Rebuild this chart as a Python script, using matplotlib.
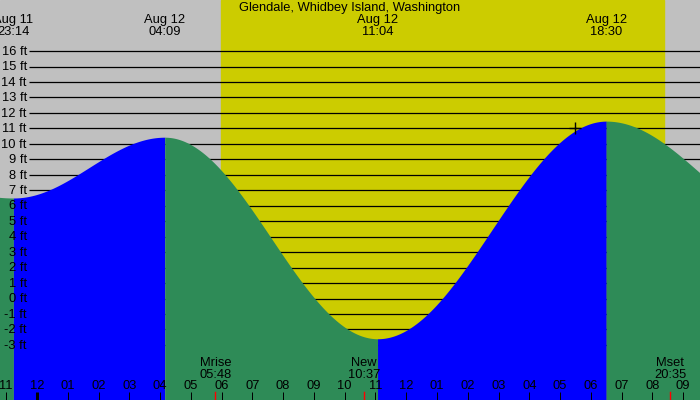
import numpy as np
import matplotlib
matplotlib.use("Agg")
import matplotlib.pyplot as plt
import matplotlib.transforms as mtransforms

plt.rcParams['font.family'] = ['Liberation Sans', 'DejaVu Sans']

# tide extremes, hours from Aug 12 00:00 (first / last are off-chart neighbours)
tide_hours = [-5.0, -0.767, 4.15, 11.067, 18.5, 24.75]
tide_feet = [8.0, 6.5, 10.43, -2.6, 11.47, 4.5]
tide_dates = ["Aug 11", "Aug 11", "Aug 12", "Aug 12", "Aug 12", "Aug 13"]
tide_times = ["17:00", "23:14", "04:09", "11:04", "18:30", "00:45"]

sunrise, sunset = 5.97, 20.38

moon_hours = [5.8, 10.617, 20.583]
moon_names = ["Mrise", "New", "Mset"]
moon_times = ["05:48", "10:37", "20:35"]

now_hour, now_feet = 17.48, 11.0

levels = list(range(-3, 17))
hour_ticks = list(range(-1, 22))

title = "Glendale, Whidbey Island, Washington"

GRAY = "#c0c0c0"
YELLOW = "#cccc00"
BLUE = "#0000ff"
GREEN = "#2e8b57"
FS = 9.3

x0, x1 = -1.2025, 21.547
y0, y1 = -6.56, 19.30

fig = plt.figure(figsize=(7, 4), dpi=100)
ax = fig.add_axes([0, 0, 1, 1])
ax.set_xlim(x0, x1)
ax.set_ylim(y0, y1)
ax.axis("off")

ax.axvspan(x0, x1, color=GRAY, zorder=0)
ax.axvspan(sunrise, sunset, color=YELLOW, zorder=0.5)

ax.hlines(levels, -0.26, x1, color="black", lw=0.9, zorder=1)
for lv in levels:
    ax.text(-0.33, lv - 0.05, f"{lv} ft", ha="right", va="center", fontsize=FS, zorder=5)

# cosine curve between each pair of extremes
for i in range(len(tide_hours) - 1):
    ta, tb = tide_hours[i], tide_hours[i + 1]
    ha_, hb_ = tide_feet[i], tide_feet[i + 1]
    t = np.linspace(ta, tb, 200)
    h = ha_ + (hb_ - ha_) * (1 - np.cos(np.pi * (t - ta) / (tb - ta))) / 2
    col = BLUE if hb_ > ha_ else GREEN
    ax.fill_between(t, h, y0 - 1, color=col, lw=0, zorder=2)

ax.plot([now_hour], [now_feet], marker="+", color="black", ms=9, mew=1, zorder=4)

trans = mtransforms.blended_transform_factory(ax.transData, ax.transAxes)

def fy(px):
    return 1 - px / 400

ax.text(0.5, fy(8), title, transform=ax.transAxes, ha="center", va="center", fontsize=FS)
for t, d, tm in zip(tide_hours, tide_dates, tide_times):
    if x0 - 1 < t < x1 + 1:
        ax.text(t, fy(20), d, transform=trans, ha="center", va="center", fontsize=FS)
        ax.text(t, fy(32), tm, transform=trans, ha="center", va="center", fontsize=FS)

for t, nm, tm in zip(moon_hours, moon_names, moon_times):
    ax.text(t, fy(363), nm, transform=trans, ha="center", va="center", fontsize=FS)
    ax.text(t, fy(375), tm, transform=trans, ha="center", va="center", fontsize=FS)
    ax.plot([t, t], [fy(392), fy(400)], transform=trans, color="red", lw=1, zorder=4)

for hr in hour_ticks:
    lab = f"{(hr % 12) or 12:02d}"
    ax.text(hr, fy(386), lab, transform=trans, ha="center", va="center", fontsize=FS, zorder=5)
    lw = 3 if hr % 24 == 0 else 1
    ax.plot([hr, hr], [fy(392), fy(400)], transform=trans, color="black", lw=lw * 0.72, zorder=4,
            solid_capstyle="butt")

fig.savefig("out.png", dpi=100)
